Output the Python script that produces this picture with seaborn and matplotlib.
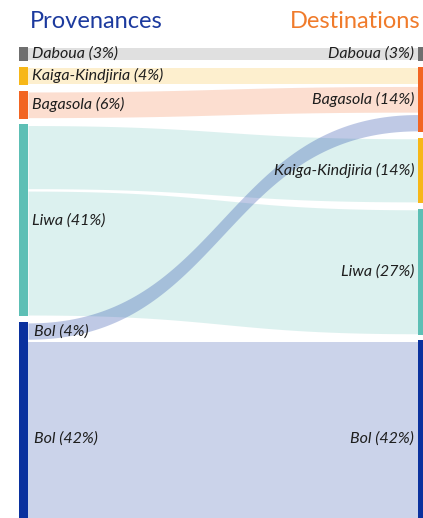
import numpy as np
import matplotlib
matplotlib.use("Agg")
import matplotlib.pyplot as plt
import seaborn as sns

# Sankey data: provenances (left) -> destinations (right), in percent
left_nodes = ["Daboua", "Kaiga-Kindjiria", "Bagasola", "Liwa", "Bol"]
right_nodes = ["Daboua", "Bagasola", "Kaiga-Kindjiria", "Liwa", "Bol"]
flow_src = ["Daboua", "Kaiga-Kindjiria", "Bagasola", "Liwa", "Liwa", "Bol", "Bol"]
flow_dst = ["Daboua", "Bagasola", "Bagasola", "Kaiga-Kindjiria", "Liwa", "Bagasola", "Bol"]
flow_pct = [3, 4, 6, 14, 27, 4, 42]
split_left_labels = ["Bol"]  # left node labelled per outgoing flow

node_colors = {
    "Daboua": "#6f6f6f",
    "Kaiga-Kindjiria": "#f7b718",
    "Bagasola": "#f26522",
    "Liwa": "#5dbfb5",
    "Bol": "#0a319e",
}

sns.set_theme(style="white")
plt.rcParams["font.family"] = ["Lato", "DejaVu Sans"]

fig = plt.figure(figsize=(4.23, 5.18), dpi=100)
ax = fig.add_axes([0, 0, 1, 1])
ax.set_xlim(0, 423)
ax.set_ylim(518, 0)
ax.axis("off")

# layout (pixels)
top = 47
k = 4.68       # px per percent
gap = 5.5
pad = 1.2      # white seam between neighbouring links
xl0, xl1 = 19, 28   # left node bar
xr0, xr1 = 418, 427  # right node bar

def totals(nodes, key):
    return {n: sum(p for s, p in zip(key, flow_pct) if s == n) for n in nodes}

left_tot = totals(left_nodes, flow_src)
right_tot = totals(right_nodes, flow_dst)

def positions(nodes, tot):
    pos, y = {}, top
    for n in nodes:
        pos[n] = y
        y += tot[n] * k + gap
    return pos

left_pos = positions(left_nodes, left_tot)
right_pos = positions(right_nodes, right_tot)

# node bars
for n in left_nodes:
    ax.bar(xl0, left_tot[n] * k, bottom=left_pos[n], width=xl1 - xl0,
           align="edge", color=node_colors[n], linewidth=0, zorder=3)
for n in right_nodes:
    ax.bar(xr0, right_tot[n] * k, bottom=right_pos[n], width=xr1 - xr0,
           align="edge", color=node_colors[n], linewidth=0, zorder=3)

# links
src_off = dict(left_pos)
dst_off = dict(right_pos)
t = np.linspace(0, 1, 200)
xm = (xl1 + xr0) / 2
bx = (1 - t) ** 3 * xl1 + 3 * (1 - t) ** 2 * t * xm + 3 * (1 - t) * t ** 2 * xm + t ** 3 * xr0
s = 3 * t ** 2 - 2 * t ** 3
label_rows = []
for src, dst, p in zip(flow_src, flow_dst, flow_pct):
    h = p * k
    y0 = src_off[src]
    y1 = dst_off[dst]
    src_off[src] += h
    dst_off[dst] += h
    ytop = y0 + (y1 - y0) * s
    alpha = 0.26 if (src == "Bol" and dst != "Bol") else 0.21
    ax.fill_between(bx, ytop + pad, ytop + h - pad, color=node_colors[src], alpha=alpha,
                    linewidth=0, zorder=1)
    if src in split_left_labels:
        label_rows.append((f"{src} ({p}%)", y0 + h / 2))

# labels
txt = dict(fontsize=11.5, style="italic", color="#1e1e1e", va="center", zorder=4)
for n in left_nodes:
    if n in split_left_labels:
        continue
    ax.text(32, left_pos[n] + left_tot[n] * k / 2, f"{n} ({left_tot[n]}%)", ha="left", **txt)
for lab, yc in label_rows:
    ax.text(34, yc, lab, ha="left", **txt)
for n in right_nodes:
    ax.text(414, right_pos[n] + right_tot[n] * k / 2, f"{n} ({right_tot[n]}%)", ha="right", **txt)

ax.text(30, 22, "Provenances", fontsize=17, color="#1c3a9e", ha="left", va="center")
ax.text(420, 22, "Destinations", fontsize=17, color="#f07b2b", ha="right", va="center")

fig.savefig("out.png", dpi=100)
